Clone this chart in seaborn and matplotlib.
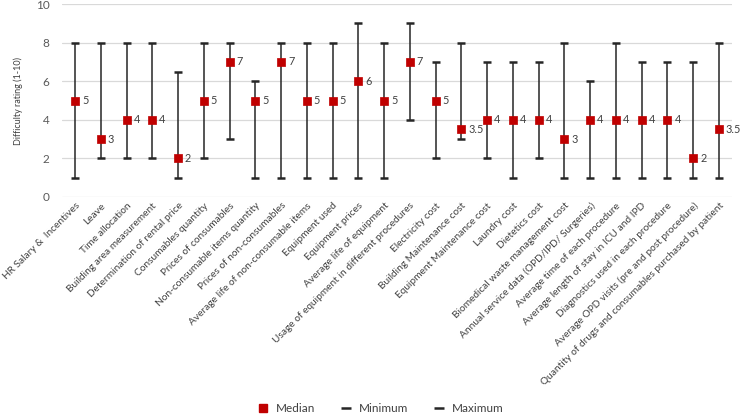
import numpy as np
import pandas as pd
import matplotlib
matplotlib.use("Agg")
import matplotlib.pyplot as plt
import seaborn as sns
from matplotlib.lines import Line2D

# categories and values
items = [
    "HR Salary &  Incentives", "Leave", "Time allocation", "Building area measurement",
    "Determination of rental price", "Consumables quantity", "Prices of consumables",
    "Non-consumable items quantity", "Prices of non-consumables",
    "Average life of non-consumable items", "Equipment used", "Equipment prices",
    "Average life of equipment", "Usage of equipment in different procedures",
    "Electricity cost", "Building Maintenance cost", "Equipment Maintenance cost",
    "Laundry cost", "Dietetics cost", "Biomedical waste management cost",
    "Annual service data (OPD/IPD/ Surgeries)", "Average time of each procedure",
    "Average length of stay in ICU and IPD", "Diagnostics used in each procedure",
    "Average OPD visits (pre and post procedure)",
    "Quantity of drugs and consumables purchased by patient",
]
median = [5, 3, 4, 4, 2, 5, 7, 5, 7, 5, 5, 6, 5, 7, 5, 3.5, 4, 4, 4, 3, 4, 4, 4, 4, 2, 3.5]
minimum = [1, 2, 2, 2, 1, 2, 3, 1, 1, 1, 1, 1, 1, 4, 2, 3, 2, 1, 2, 1, 1, 1, 1, 1, 1, 1]
maximum = [8, 8, 8, 8, 6.5, 8, 8, 6, 8, 8, 8, 9, 8, 9, 7, 8, 7, 7, 7, 8, 6, 8, 7, 7, 7, 8]

df = pd.DataFrame({"item": items, "median": median, "min": minimum, "max": maximum})
df["x"] = np.arange(len(df))

sns.set_style("white")
plt.rcParams["font.family"] = ["Lato", "DejaVu Sans"]

fig = plt.figure(figsize=(7.4, 4.18), dpi=100)
ax = fig.add_axes([0.084, 0.529, 0.905, 0.461])

ax.set_axisbelow(True)
ax.grid(axis="y", color="#d9d9d9", linewidth=0.9)

# range lines and caps
ax.vlines(df["x"], df["min"], df["max"], color="#262626", linewidth=1.1, zorder=2)
sns.scatterplot(data=df, x="x", y="min", marker="_", s=40, color="#262626",
                linewidth=1.8, ax=ax, zorder=3, legend=False)
sns.scatterplot(data=df, x="x", y="max", marker="_", s=40, color="#262626",
                linewidth=1.8, ax=ax, zorder=3, legend=False)
sns.scatterplot(data=df, x="x", y="median", marker="s", s=40, color="#c00000",
                edgecolor="#c00000", ax=ax, zorder=4, legend=False)

for xi, m in zip(df["x"], df["median"]):
    ax.text(xi + 0.27, m, f"{m:g}", va="center", ha="left", fontsize=7.8, color="#404040")

ax.set_xlim(-0.5, len(df) - 0.5)
ax.set_ylim(0, 10)
ax.set_yticks(range(0, 11, 2))
ax.set_xticks(df["x"])
ax.set_xticklabels(df["item"], rotation=45, ha="right", rotation_mode="anchor",
                   fontsize=7.3, color="#404040")
ax.tick_params(axis="y", labelsize=8.5, labelcolor="#595959", length=0, pad=9)
ax.tick_params(axis="x", length=0, pad=3)
ax.set_xlabel("")
ax.set_ylabel("Difficulty rating (1-10)", fontsize=6.5, color="#404040", labelpad=9)
sns.despine(ax=ax, left=True, bottom=True)

handles = [
    Line2D([], [], marker="s", color="#c00000", linestyle="none", markersize=6),
    Line2D([], [], marker="_", color="#262626", linestyle="none", markersize=7, markeredgewidth=1.8),
    Line2D([], [], marker="_", color="#262626", linestyle="none", markersize=7, markeredgewidth=1.8),
]
fig.legend(handles, ["Median", "Minimum", "Maximum"], loc="center", ncol=3,
           bbox_to_anchor=(0.51, 0.022), frameon=False, fontsize=8.5,
           handletextpad=0.1, columnspacing=1.6, labelcolor="#404040")

fig.savefig("out.png", dpi=100)
